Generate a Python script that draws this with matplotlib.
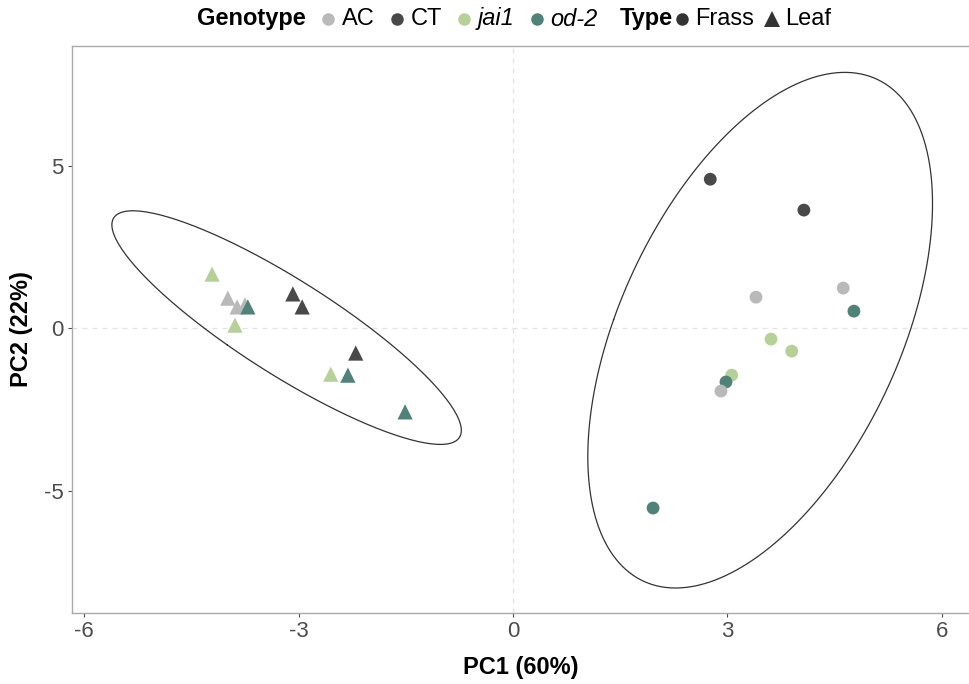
import numpy as np
import matplotlib.pyplot as plt
from matplotlib.lines import Line2D

plt.rcParams['font.family'] = ['Liberation Sans', 'DejaVu Sans']
plt.rcParams['axes.unicode_minus'] = False

# --------------- Data ----------------------------------------
genotypes = ["AC", "CT", "jai1", "od-2"]
geno_colors = {"AC": "#b9b9b9", "CT": "#494949", "jai1": "#b5d198", "od-2": "#4f8278"}

leaf_pc1 = [-4.21, -3.99, -3.86, -3.75, -3.71, -3.89, -3.08, -2.95, -2.20, -2.55, -2.31, -1.51]
leaf_pc2 = [1.66, 0.92, 0.65, 0.71, 0.65, 0.09, 1.05, 0.65, -0.77, -1.42, -1.45, -2.58]
leaf_geno = ["jai1", "AC", "AC", "AC", "od-2", "jai1", "CT", "CT", "CT", "jai1", "od-2", "od-2"]

frass_pc1 = [2.76, 4.07, 3.40, 4.62, 4.77, 3.61, 3.90, 3.06, 2.98, 2.91, 1.96]
frass_pc2 = [4.58, 3.63, 0.95, 1.23, 0.52, -0.34, -0.71, -1.45, -1.66, -1.94, -5.54]
frass_geno = ["CT", "CT", "AC", "AC", "od-2", "jai1", "jai1", "jai1", "od-2", "AC", "od-2"]

x_ticks = [-6, -3, 0, 3, 6]
y_ticks = [-5, 0, 5]


# --------------- 95% ellipse (t-based radius, like stat_ellipse) -----------------
def ellipse_xy(x, y, level=0.95, npts=200):
    pts = np.column_stack([x, y])
    n = len(pts)
    center = pts.mean(axis=0)
    cov = np.cov(pts, rowvar=False)
    d = n - 1
    fq = d / 2 * ((1 - level) ** (-2 / d) - 1)  # qf(level, 2, d)
    r = np.sqrt(2 * fq)
    vals, vecs = np.linalg.eigh(cov)
    t = np.linspace(0, 2 * np.pi, npts)
    circ = np.column_stack([np.cos(t), np.sin(t)]) * np.sqrt(vals) * r
    e = circ @ vecs.T + center
    return e[:, 0], e[:, 1]


fig = plt.figure(figsize=(9.69, 6.84), dpi=100)
ax = fig.add_axes([72 / 969, 1 - 613 / 684, 1 - 72 / 969, (613 - 46) / 684])

ax.axhline(0, color="#e3e3e3", ls=(0, (4, 4)), lw=0.9, zorder=0)
ax.axvline(0, color="#e3e3e3", ls=(0, (4, 4)), lw=0.9, zorder=0)

for xs, ys in [(leaf_pc1, leaf_pc2), (frass_pc1, frass_pc2)]:
    ex, ey = ellipse_xy(xs, ys)
    ax.plot(ex, ey, color="#333333", lw=0.9, zorder=1)

ax.scatter(frass_pc1, frass_pc2, c=[geno_colors[g] for g in frass_geno],
           s=85, marker="o", linewidths=0, zorder=3)
ax.scatter(leaf_pc1, leaf_pc2, c=[geno_colors[g] for g in leaf_geno],
           s=120, marker="^", linewidths=0, zorder=3)

ax.set_xlim(-6.17, 6.38)
ax.set_ylim(-8.77, 8.68)
ax.set_xticks(x_ticks)
ax.set_yticks(y_ticks)
ax.tick_params(colors="#4d4d4d", labelsize=16, length=3, width=0.8, labelcolor="#4d4d4d")
ax.tick_params(axis="x", pad=3)
ax.tick_params(axis="y", pad=3)
for side in ["top", "left", "bottom"]:
    ax.spines[side].set_color("#aaaaaa")
    ax.spines[side].set_linewidth(1.0)
ax.spines["right"].set_visible(False)

ax.set_xlabel("PC1 (60%)", fontsize=17, fontweight="bold", labelpad=10)
ax.set_ylabel("PC2 (22%)", fontsize=17, fontweight="bold", labelpad=8)

# --------------- Top legend, laid out left to right -----------------
fig.canvas.draw()
renderer = fig.canvas.get_renderer()
W, H = fig.get_size_inches() * fig.dpi
ycen = 1 - 19 / 684
xpos = 197


def put_text(s, **kw):
    global xpos
    t = fig.text(xpos / W, ycen, s, fontsize=17, va="center", ha="left", **kw)
    bb = t.get_window_extent(renderer)
    xpos += bb.width


def put_marker(marker, color, size, before, after):
    global xpos
    xpos += before
    fig.add_artist(Line2D([xpos / W], [ycen], marker=marker, color=color,
                          markersize=size, markeredgewidth=0, transform=fig.transFigure))
    xpos += after


put_text("Genotype", fontweight="bold")
for g in genotypes:
    put_marker("o", geno_colors[g], 9, 22, 14)
    put_text(g, style="italic" if g in ("jai1", "od-2") else "normal")
xpos += 22
put_text("Type", fontweight="bold")
put_marker("o", "#333333", 9, 9, 13)
put_text("Frass")
put_marker("^", "#333333", 11, 18, 13)
put_text("Leaf")

fig.savefig("out.png", dpi=100)
